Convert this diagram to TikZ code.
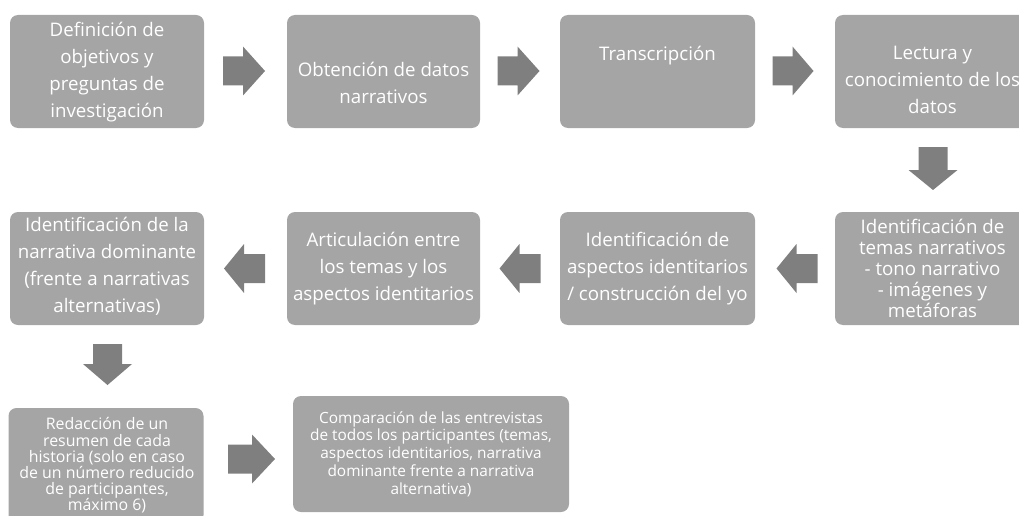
\documentclass[tikz,border=0pt]{standalone}
\usepackage{fontspec}
\setmainfont{Open Sans}
\definecolor{boxgray}{HTML}{A5A5A5}
\definecolor{arrowgray}{HTML}{7F7F7F}
\tikzset{
 stepbox/.style={fill=boxgray, rounded corners=8pt, inner sep=0pt, draw=none},
 boxtext/.style={text=white, align=center, inner sep=0pt, font=\fontsize{18.7}{27}\selectfont},
}
% #1 name, #2 centre, #3 rotation, #4 half length, #5 head length
\newcommand\blockarr[5]{%
 \coordinate (#1) at #2;
 \fill[arrowgray, shift={(#1)}, rotate=#3] (-#4,-14.5) -- ({#4-#5},-14.5) -- ({#4-#5},-24.5) -- (#4,0) -- ({#4-#5},24.5) -- ({#4-#5},14.5) -- (-#4,14.5) -- cycle;}
\begin{document}
\begin{tikzpicture}[x=1pt,y=-1pt]
\useasboundingbox (0,0) rectangle (1019,516);
\clip (0,0) rectangle (1019,516);
% boxes
\node[stepbox, minimum width=194pt, minimum height=113pt] (b1) at (107,71.5) {};
\node[stepbox, minimum width=193pt, minimum height=113pt] (b2) at (383.5,71.5) {};
\node[stepbox, minimum width=195pt, minimum height=113pt] (b3) at (657.5,71.5) {};
\node[stepbox, minimum width=195pt, minimum height=113pt] (b4) at (932.5,71.5) {};
\node[stepbox, minimum width=194pt, minimum height=113pt] (b5) at (107,268.5) {};
\node[stepbox, minimum width=193pt, minimum height=113pt] (b6) at (383.5,268.5) {};
\node[stepbox, minimum width=195pt, minimum height=113pt] (b7) at (657.5,268.5) {};
\node[stepbox, minimum width=195pt, minimum height=113pt] (b8) at (932.5,268.5) {};
\node[stepbox, minimum width=195pt, minimum height=115pt] (b9) at (106,465.5) {};
\node[stepbox, minimum width=276pt, minimum height=116pt] (b10) at (431,454) {};
% texts
\node[boxtext] (t1) at (107,72) {Definición de\\objetivos y\\preguntas de\\investigación};
\node[boxtext] (t2) at (383.5,83) {Obtención de datos\\narrativos};
\node[boxtext] (t3) at (657.5,56) {Transcripción};
\node[boxtext] (t4) at (932.5,80) {Lectura y\\conocimiento de los\\datos};
\node[boxtext] (t5) at (107,266) {Identificación de la\\narrativa dominante\\(frente a narrativas\\alternativas)};
\node[boxtext] (t6) at (383.5,269) {Articulación entre\\los temas y los\\aspectos identitarios};
\node[boxtext] (t7) at (657.5,269) {Identificación de\\aspectos identitarios\\/ construcción del yo};
\node[boxtext, font=\fontsize{18.7}{21}\selectfont] (t8) at (932.5,268.5) {Identificación de\\temas narrativos\\- tono narrativo\\- imágenes y\\metáforas};
\node[boxtext, font=\fontsize{15.9}{16.2}\selectfont] (t9) at (107,465.5) {Redacción de un\\resumen de cada\\historia (solo en caso\\de un número reducido\\de participantes,\\máximo 6)};
\node[boxtext, font=\fontsize{15.4}{17.8}\selectfont] (t10) at (431,454) {Comparación de las entrevistas\\de todos los participantes (temas,\\aspectos identitarios, narrativa\\dominante frente a narrativa\\alternativa)};
% block arrows
\blockarr{a12}{(244,71)}{0}{21}{22}
\blockarr{a23}{(518.5,71)}{0}{21}{22}
\blockarr{a34}{(793,71)}{0}{20.5}{21}
\blockarr{a48}{(933,168.5)}{270}{21.5}{20}
\blockarr{a87}{(797,268.5)}{180}{20.5}{20}
\blockarr{a76}{(520,268.5)}{180}{20.5}{20}
\blockarr{a65}{(244.5,268.5)}{180}{20.5}{20}
\blockarr{a59}{(107.5,364.5)}{270}{20.5}{21}
\blockarr{a910}{(251.5,459)}{0}{23.5}{23}
\end{tikzpicture}
\end{document}
